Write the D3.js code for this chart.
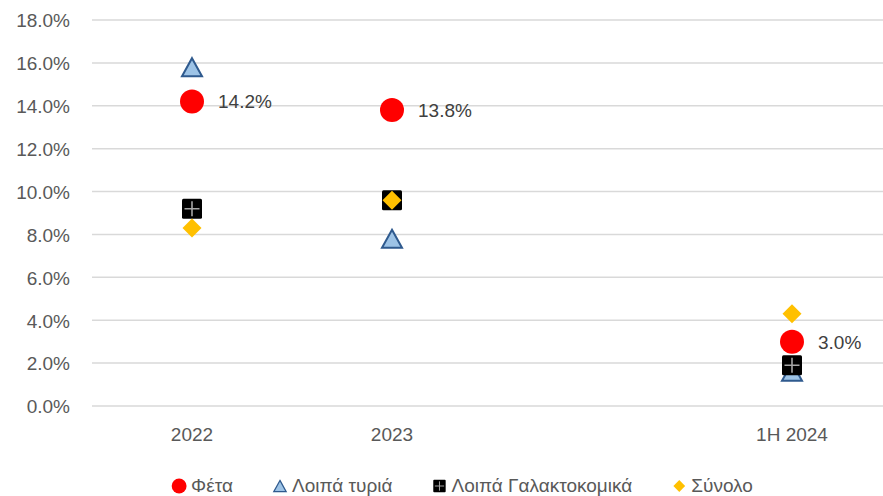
<!DOCTYPE html>
<html><head><meta charset="utf-8">
<script src="https://cdn.jsdelivr.net/npm/d3@7/dist/d3.min.js"></script>
<style>body{margin:0;background:#fff}svg{display:block}</style>
</head><body>
<svg id="c" width="883" height="496"></svg>
<script>
const categories = ["2022", "2023", "", "1H 2024"];
const feta = [0.142, 0.138, null, 0.030];
const otherCheese = [0.158, 0.078, null, 0.016];
const otherDairy = [0.092, 0.096, null, 0.019];
const total = [0.083, 0.096, null, 0.043];
const yTicks = [0, 0.02, 0.04, 0.06, 0.08, 0.10, 0.12, 0.14, 0.16, 0.18];
const seriesNames = ["Φέτα", "Λοιπά τυριά", "Λοιπά Γαλακτοκομικά", "Σύνολο"];

const svg = d3.select("#c");
const font = "'Liberation Sans', Arial, sans-serif";
const fs = 19;
const x = d3.scaleBand().domain(categories).range([92, 892]);
const y = d3.scaleLinear().domain([0, 0.18]).range([406, 20]);
const cx = c => x(c) + x.bandwidth() / 2;

// gridlines
svg.append("g").selectAll("line").data(yTicks).join("line")
  .attr("x1", 92).attr("x2", 883)
  .attr("y1", d => y(d)).attr("y2", d => y(d))
  .attr("stroke", "#d9d9d9").attr("stroke-width", 1.5);

// y axis labels
const yAxis = d3.axisLeft(y).tickValues(yTicks).tickFormat(d3.format(".1%")).tickSize(0).tickPadding(0);
const ya = svg.append("g").attr("transform", "translate(70,0)").call(yAxis);
ya.select(".domain").remove();
ya.selectAll("text").attr("font-family", font).attr("font-size", fs).attr("fill", "#595959").attr("dy", "0.36em");

// x axis labels
const xAxis = d3.axisBottom(x).tickSize(0).tickPadding(0);
const xa = svg.append("g").attr("transform", "translate(0,427)").call(xAxis);
xa.select(".domain").remove();
xa.selectAll("text").attr("font-family", font).attr("font-size", fs).attr("fill", "#595959").attr("dy", "0.75em");

const sym = {
  circle: (g, s) => g.append("circle").attr("r", 12 * s).attr("fill", "#ff0000"),
  triangle: (g, s) => g.append("path")
      .attr("d", `M0,${-9*s} L${10*s},${9*s} L${-10*s},${9*s} Z`)
      .attr("fill", "#9dc3e6").attr("stroke", "#2f5a8e").attr("stroke-width", 2 * s).attr("stroke-linejoin", "miter"),
  square: (g, s) => {
    g.append("rect").attr("x", -10*s).attr("y", -10*s).attr("width", 20*s).attr("height", 20*s).attr("rx", 1.5*s).attr("fill", "#000");
    g.append("path").attr("d", `M${-7.5*s},0 H${7.5*s} M0,${-7.5*s} V${7.5*s}`).attr("stroke", "#a6a6a6").attr("stroke-width", 1.6*s);
  },
  diamond: (g, s) => g.append("path")
      .attr("d", `M0,${-9.5*s} L${9.5*s},0 L0,${9.5*s} L${-9.5*s},0 Z`).attr("fill", "#ffc000")
};

const series = [
  {vals: feta, shape: "circle"},
  {vals: otherCheese, shape: "triangle"},
  {vals: otherDairy, shape: "square"},
  {vals: total, shape: "diamond"}
];

series.forEach(s => {
  categories.forEach((c, i) => {
    const v = s.vals[i];
    if (v == null) return;
    const g = svg.append("g").attr("transform", `translate(${cx(c)},${y(v)})`);
    sym[s.shape](g, 1);
  });
});

// data labels for Φέτα
categories.forEach((c, i) => {
  const v = feta[i];
  if (v == null) return;
  svg.append("text").attr("x", cx(c) + 26).attr("y", y(v)).attr("dy", "0.36em")
    .attr("font-family", font).attr("font-size", fs).attr("fill", "#404040")
    .text(d3.format(".1%")(v));
});

// legend
const leg = svg.append("g");
const shapes = ["circle", "triangle", "square", "diamond"];
let lx = 0;
const gap = 40;
seriesNames.forEach((n, i) => {
  const g = leg.append("g").attr("transform", `translate(${lx},0)`);
  const mg = g.append("g").attr("transform", "translate(7,0)");
  sym[shapes[i]](mg, 0.62);
  const t = g.append("text").attr("x", 19).attr("y", 0).attr("dy", "0.33em")
    .attr("font-family", font).attr("font-size", fs).attr("fill", "#595959").text(n);
  const w = t.node().getComputedTextLength();
  lx += 19 + w + gap;
});
const totalW = lx - gap;
leg.attr("transform", `translate(${462.5 - totalW / 2},486)`);
</script>
</body></html>
